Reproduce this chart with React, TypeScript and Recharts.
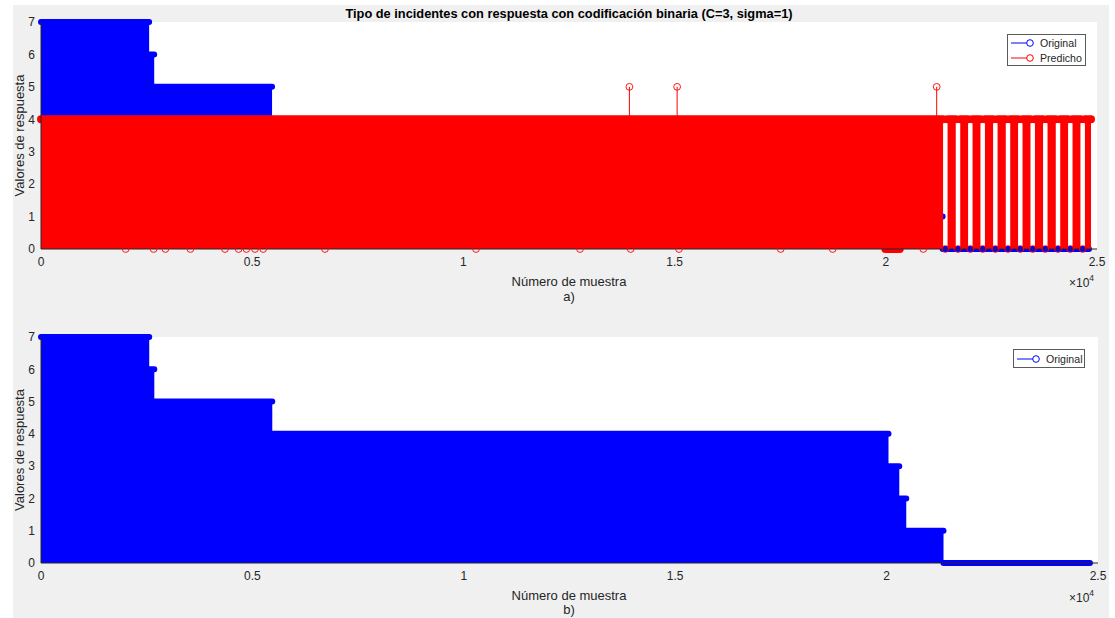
import React from "react";
import { ComposedChart, Area, Line, Scatter, XAxis, YAxis, CartesianGrid, Legend } from "recharts";

// original class of each sample, stored as runs [start, end) with their class value
const originalStart = [0, 2560, 2680, 5470, 20045, 20300, 20465, 21346];
const originalEnd = [2560, 2680, 5470, 20045, 20300, 20465, 21346, 24810];
const originalValue = [7, 6, 5, 4, 3, 2, 1, 0];

// predicted class: runs of 4, every sample between two runs was predicted as 0
const predictedStart = [0, 21462, 21762, 22054, 22347, 22646, 22946, 23237, 23531, 23829, 24130, 24421, 24714];
const predictedEnd = [21356, 21656, 21948, 22241, 22540, 22840, 23131, 23425, 23723, 24024, 24315, 24608, 24858];
const predictedValue = [4, 4, 4, 4, 4, 4, 4, 4, 4, 4, 4, 4, 4];

// isolated predictions of 5 and of 0
const predictedFiveAt = [13930, 15060, 21205];
const predictedZeroAt = [
  2005, 2666, 2945, 3537, 4356, 4678, 4863, 5066, 5260, 6723, 10298, 12760, 13960, 15104, 17511, 18742, 20888,
  21409, 21709, 22001, 22294, 22593, 22893, 23184, 23478, 23776, 24077, 24368, 24661,
];
const predictedZeroRunStart = [19990];
const predictedZeroRunEnd = [20330];

const xTicks = [0, 5000, 10000, 15000, 20000, 25000];
const yTicks = [0, 1, 2, 3, 4, 5, 6, 7];

const BLUE = "#0000ff";
const RED = "#ff0000";
const INK = "#262626";
const FONT = "'Liberation Sans', Arial, Helvetica, sans-serif";

type Pt = { x: number; y: number | null };

// filled stems: one rectangle per run, dropped back to the baseline
function runArea(starts: number[], ends: number[], values: number[]): Pt[] {
  const pts: Pt[] = [];
  starts.forEach((s, i) => {
    pts.push({ x: s, y: 0 }, { x: s, y: values[i] }, { x: ends[i], y: values[i] }, { x: ends[i], y: 0 });
  });
  return pts;
}

// marker band along the top of each run, broken between runs
function runTops(starts: number[], ends: number[], values: number[]): Pt[] {
  const pts: Pt[] = [];
  starts.forEach((s, i) => {
    pts.push({ x: s, y: values[i] }, { x: ends[i], y: values[i] }, { x: ends[i], y: null });
  });
  return pts;
}

function stems(xs: number[], from: number, to: number): Pt[] {
  return xs.flatMap((x) => [{ x, y: from }, { x, y: to }, { x, y: null }]);
}

const origArea = runArea(originalStart, originalEnd, originalValue);
const origTops = runTops(originalStart, originalEnd, originalValue);
const predArea = runArea(predictedStart, predictedEnd, predictedValue);
const predTops = runTops(predictedStart, predictedEnd, predictedValue);
const predZeroRuns = runTops(predictedZeroRunStart, predictedZeroRunEnd, predictedZeroRunStart.map(() => 0));
const predFiveStems = stems(predictedFiveAt, 4, 5);
const predFiveDots = predictedFiveAt.map((x) => ({ x, y: 5 }));
const predZeroDots = predictedZeroAt.map((x) => ({ x, y: 0 }));

const openCircle = (props: any) => (
  <circle cx={props.cx} cy={props.cy} r={3.4} fill="none" stroke={RED} strokeWidth={0.9} />
);

const tickStyle = { fontSize: 12, fill: INK, fontFamily: FONT };

// box axes: labelled bottom/left, inward ticks on top/right
function boxAxes(bottomHeight: number) {
  return [
    <XAxis
      key="xb"
      xAxisId="b"
      type="number"
      dataKey="x"
      domain={[0, 25000]}
      ticks={xTicks}
      interval={0}
      tickFormatter={(v: number) => String(v / 10000)}
      tickLine={false}
      tickSize={6}
      tickMargin={2}
      axisLine={{ stroke: INK }}
      tick={tickStyle}
      height={bottomHeight}
    />,
    <XAxis
      key="xt"
      xAxisId="t"
      orientation="top"
      mirror
      type="number"
      dataKey="x"
      domain={[0, 25000]}
      ticks={xTicks}
      interval={0}
      tick={false}
      tickSize={10}
      tickLine={{ stroke: INK }}
      axisLine={{ stroke: INK }}
      height={0}
    />,
    <YAxis
      key="yl"
      yAxisId="l"
      type="number"
      dataKey="y"
      domain={[0, 7]}
      ticks={yTicks}
      interval={0}
      tickLine={false}
      tickSize={6}
      tickMargin={0}
      axisLine={{ stroke: INK }}
      tick={tickStyle}
      width={41}
    />,
    <YAxis
      key="yr"
      yAxisId="r"
      orientation="right"
      mirror
      type="number"
      dataKey="y"
      domain={[0, 7]}
      ticks={yTicks}
      interval={0}
      tick={false}
      tickSize={10}
      tickLine={{ stroke: INK }}
      axisLine={{ stroke: INK }}
      width={0}
    />,
  ];
}

function LegendBox({ items, rowHeight }: { items: { name: string; color: string }[]; rowHeight: number }) {
  return (
    <div
      style={{
        boxSizing: "border-box",
        width: "100%",
        height: "100%",
        background: "#ffffff",
        border: "1px solid #5a5a5a",
        paddingTop: 1,
        fontFamily: FONT,
        fontSize: 10.6,
        color: INK,
      }}
    >
      {items.map((it) => (
        <div key={it.name} style={{ display: "flex", alignItems: "center", height: rowHeight }}>
          <svg width={32} height={10} style={{ flex: "none" }}>
            <line x1={3} y1={5} x2={22} y2={5} stroke={it.color} strokeWidth={1} />
            <circle cx={22} cy={5} r={3.3} fill="#ffffff" stroke={it.color} strokeWidth={1} />
          </svg>
          <span>{it.name}</span>
        </div>
      ))}
    </div>
  );
}

const seriesAxes = { xAxisId: "b", yAxisId: "l" };

// stem fills and marker bands are all Areas so they stack in source order
function TopPlot() {
  return (
    <ComposedChart width={1115} height={300} margin={{ top: 22, right: 18, bottom: 0, left: 0 }}>
      <CartesianGrid xAxisId="b" yAxisId="l" horizontal={false} vertical={false} fill="#ffffff" />
      {boxAxes(51)}
      <Area {...seriesAxes} data={origArea} dataKey="y" type="linear" fill={BLUE} fillOpacity={1} stroke="none" isAnimationActive={false} />
      <Area {...seriesAxes} data={origTops} dataKey="y" type="linear" fill="none" stroke={BLUE} strokeWidth={6} strokeLinecap="round" dot={false} activeDot={false} isAnimationActive={false} />
      <Area {...seriesAxes} data={predArea} dataKey="y" type="linear" fill={RED} fillOpacity={1} stroke="none" isAnimationActive={false} />
      <Area {...seriesAxes} data={predTops} dataKey="y" type="linear" fill="none" stroke={RED} strokeWidth={8} strokeLinecap="round" dot={false} activeDot={false} isAnimationActive={false} />
      <Area {...seriesAxes} data={predZeroRuns} dataKey="y" type="linear" fill="none" stroke={RED} strokeWidth={8} strokeLinecap="round" dot={false} activeDot={false} isAnimationActive={false} />
      <Line {...seriesAxes} data={predFiveStems} dataKey="y" type="linear" stroke={RED} strokeWidth={1} dot={false} activeDot={false} isAnimationActive={false} />
      <Scatter {...seriesAxes} data={predFiveDots} shape={openCircle} isAnimationActive={false} />
      <Scatter {...seriesAxes} data={predZeroDots} shape={openCircle} isAnimationActive={false} />
      <Legend
        layout="vertical"
        align="center"
        verticalAlign="middle"
        wrapperStyle={{ left: 1007, top: 34, width: 79, height: 32 }}
        content={() => (
          <LegendBox
            rowHeight={14.5}
            items={[
              { name: "Original", color: BLUE },
              { name: "Predicho", color: RED },
            ]}
          />
        )}
      />
    </ComposedChart>
  );
}

function BottomPlot() {
  return (
    <ComposedChart width={1115} height={318} margin={{ top: 37, right: 17, bottom: 0, left: 0 }}>
      <CartesianGrid xAxisId="b" yAxisId="l" horizontal={false} vertical={false} fill="#ffffff" />
      {boxAxes(55)}
      <Area {...seriesAxes} data={origArea} dataKey="y" type="linear" fill={BLUE} fillOpacity={1} stroke="none" isAnimationActive={false} />
      <Area {...seriesAxes} data={origTops} dataKey="y" type="linear" fill="none" stroke={BLUE} strokeWidth={6} strokeLinecap="round" dot={false} activeDot={false} isAnimationActive={false} />
      <Legend
        layout="vertical"
        align="center"
        verticalAlign="middle"
        wrapperStyle={{ left: 1013, top: 49, width: 72, height: 19 }}
        content={() => <LegendBox rowHeight={16} items={[{ name: "Original", color: BLUE }]} />}
      />
    </ComposedChart>
  );
}

export default function App() {
  const labelStyle = { fontFamily: FONT, fontSize: 13, fill: INK };
  return (
    <div style={{ position: "fixed", left: 0, top: 0, width: 1115, height: 618, background: "#ffffff", overflow: "hidden" }}>
      <div style={{ position: "absolute", left: 13, top: 5, width: 1096, height: 613, background: "#f0f0f0" }} />
      <div style={{ position: "absolute", left: 0, top: 0 }}>
        <TopPlot />
      </div>
      <div style={{ position: "absolute", left: 0, top: 300 }}>
        <BottomPlot />
      </div>
      <svg width={1115} height={618} style={{ position: "absolute", left: 0, top: 0, pointerEvents: "none" }}>
        <text x={569} y={18} textAnchor="middle" style={{ ...labelStyle, fontSize: 12.8, fontWeight: "bold", fill: "#000" }}>
          Tipo de incidentes con respuesta con codificación binaria (C=3, sigma=1)
        </text>
        <text x={569} y={285.5} textAnchor="middle" style={labelStyle}>Número de muestra</text>
        <text x={569} y={300.5} textAnchor="middle" style={labelStyle}>a)</text>
        <text x={569} y={599.5} textAnchor="middle" style={labelStyle}>Número de muestra</text>
        <text x={569} y={614} textAnchor="middle" style={labelStyle}>b)</text>
        <text x={24} y={135.5} textAnchor="middle" transform="rotate(-90 24 135.5)" style={labelStyle}>Valores de respuesta</text>
        <text x={24} y={450} textAnchor="middle" transform="rotate(-90 24 450)" style={labelStyle}>Valores de respuesta</text>
        <text x={1069} y={287} style={{ ...labelStyle, fontSize: 12 }}>
          ×10<tspan dy={-6} fontSize={8.5}>4</tspan>
        </text>
        <text x={1069} y={601.5} style={{ ...labelStyle, fontSize: 12 }}>
          ×10<tspan dy={-6} fontSize={8.5}>4</tspan>
        </text>
      </svg>
    </div>
  );
}
